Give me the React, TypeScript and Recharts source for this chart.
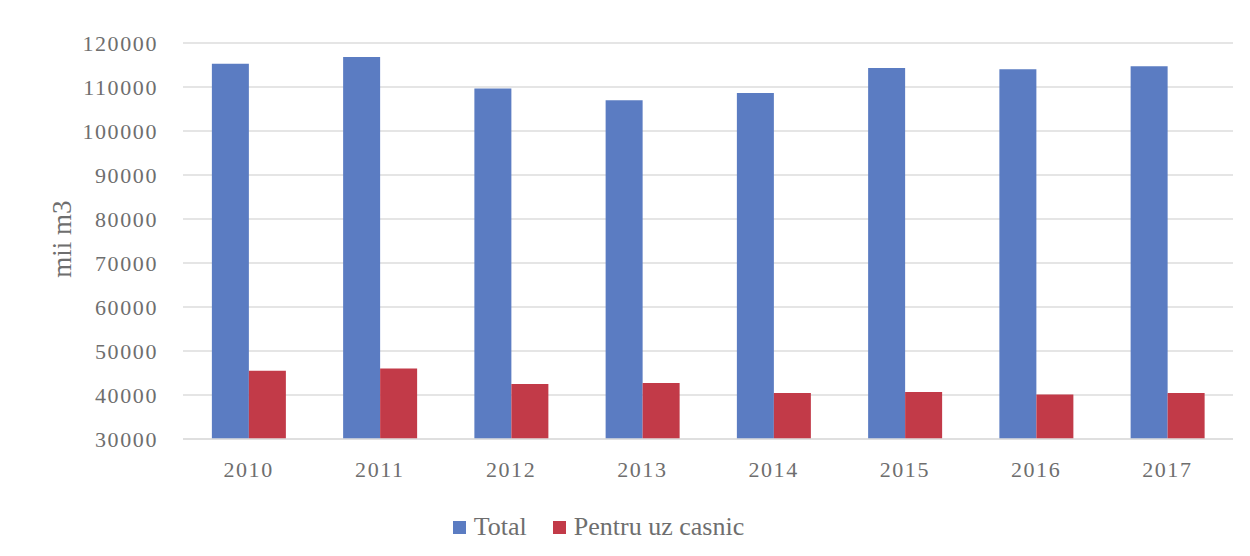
import React from 'react';
import { BarChart, Bar, XAxis, YAxis, CartesianGrid, Legend } from 'recharts';

const years = ['2010', '2011', '2012', '2013', '2014', '2015', '2016', '2017'];
const totalValues = [115300, 116800, 109650, 107000, 108650, 114330, 114030, 114700];
const casnicValues = [45500, 46000, 42480, 42700, 40440, 40660, 40120, 40440];
const yTicks = [30000, 40000, 50000, 60000, 70000, 80000, 90000, 100000, 110000, 120000];
const seriesOrder = ['total', 'casnic'];

const data = years.map((year, i) => ({
  year,
  total: totalValues[i],
  casnic: casnicValues[i],
}));

const FONT = '"Liberation Serif", "DejaVu Serif", serif';
const TEXT = '#6e6e6e';

const AxisTitle = ({ viewBox }: any) => {
  const x = viewBox.x + 62;
  const y = viewBox.y + viewBox.height / 2 - 2;
  return (
    <text
      x={x}
      y={y}
      transform={`rotate(-90, ${x}, ${y})`}
      textAnchor="middle"
      dominantBaseline="central"
      fill={TEXT}
      fontFamily={FONT}
      fontSize={27}
    >
      mii m3
    </text>
  );
};

const renderLegend = ({ payload }: any) => {
  const items = [...payload].sort(
    (a: any, b: any) => seriesOrder.indexOf(a.dataKey) - seriesOrder.indexOf(b.dataKey)
  );
  return (
    <div style={{ display: 'flex', justifyContent: 'center', alignItems: 'center', gap: 26, paddingRight: 36, fontFamily: FONT, fontSize: 26, color: TEXT }}>
      {items.map((entry: any) => (
        <span key={entry.value} style={{ display: 'flex', alignItems: 'center' }}>
          <span style={{ width: 13, height: 13, background: entry.color, marginRight: 8, display: 'inline-block' }} />
          {entry.value}
        </span>
      ))}
    </div>
  );
};

export default function App() {
  return (
    <div style={{ position: 'absolute', left: 0, top: 0, width: 1250, height: 556, background: '#fff' }}>
      <BarChart
        width={1250}
        height={556}
        data={data}
        margin={{ top: 43, right: 17, left: 0, bottom: 4 }}
        barCategoryGap="22%"
        barGap={0}
      >
        <CartesianGrid vertical={false} stroke="#dcdcdc" strokeWidth={1.3} />
        <XAxis
          dataKey="year"
          height={73}
          tickLine={false}
          tickMargin={16}
          axisLine={{ stroke: '#dcdcdc', strokeWidth: 1.3 }}
          tick={{ fill: TEXT, fontFamily: FONT, fontSize: 22, letterSpacing: 1.6 }}
        />
        <YAxis
          width={183}
          domain={[30000, 120000]}
          ticks={yTicks}
          interval={0}
          tickLine={false}
          axisLine={false}
          tickMargin={19}
          tick={{ fill: TEXT, fontFamily: FONT, fontSize: 22, letterSpacing: 1.6 }}
          label={<AxisTitle />}
        />
        <Legend verticalAlign="bottom" height={40} content={renderLegend} />
        <Bar dataKey="total" name="Total" fill="#5b7cc2" isAnimationActive={false} />
        <Bar dataKey="casnic" name="Pentru uz casnic" fill="#c23a48" isAnimationActive={false} />
      </BarChart>
    </div>
  );
}
